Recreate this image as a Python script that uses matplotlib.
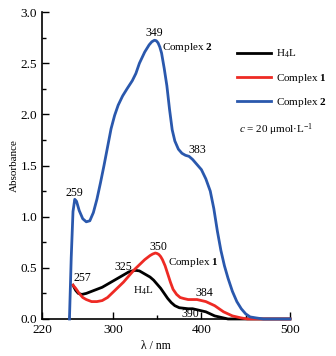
import matplotlib

matplotlib.use('agg')

from matplotlib import pyplot as plt
from matplotlib.ticker import MultipleLocator, FormatStrFormatter

plt.rcParams['font.family'] = 'Liberation Serif'
plt.rcParams['mathtext.fontset'] = 'custom'
plt.rcParams['mathtext.rm'] = 'Liberation Serif'
plt.rcParams['mathtext.it'] = 'Liberation Serif:italic'
plt.rcParams['mathtext.bf'] = 'Liberation Serif:bold'

# wavelength (nm) / absorbance
wl_c2 = [251, 253, 255, 257, 259, 262, 266, 270, 274, 278, 282, 286, 290, 294,
         298, 302, 306, 311, 316, 322, 326, 330, 336, 341, 344, 347, 349, 351,
         353, 355, 358, 361, 364, 367, 370, 374, 378, 382, 386, 390, 395, 400,
         405, 410, 414, 418, 422, 426, 430, 435, 440, 445, 450, 455, 462, 470, 500]
abs_c2 = [0.0, 0.6, 1.05, 1.17, 1.15, 1.06, 0.98, 0.95, 0.96, 1.04, 1.17, 1.33,
          1.50, 1.68, 1.86, 1.99, 2.09, 2.18, 2.25, 2.33, 2.40, 2.50, 2.61, 2.68,
          2.71, 2.725, 2.72, 2.70, 2.66, 2.60, 2.45, 2.28, 2.05, 1.85, 1.74, 1.66,
          1.62, 1.60, 1.59, 1.56, 1.51, 1.46, 1.37, 1.25, 1.08, 0.86, 0.67, 0.52,
          0.40, 0.27, 0.17, 0.10, 0.05, 0.02, 0.01, 0.0, 0.0]

wl_c1 = [255, 258, 262, 266, 270, 276, 282, 288, 294, 300, 306, 312, 318, 324,
         330, 336, 342, 345, 348, 350, 352, 354, 356, 359, 362, 365, 368, 372,
         376, 380, 385, 390, 395, 400, 405, 410, 415, 420, 425, 430, 435, 440,
         445, 452, 500]
abs_c1 = [0.33, 0.30, 0.25, 0.21, 0.19, 0.17, 0.17, 0.18, 0.21, 0.26, 0.31, 0.36,
          0.42, 0.48, 0.53, 0.58, 0.62, 0.635, 0.645, 0.64, 0.63, 0.61, 0.58, 0.52,
          0.44, 0.36, 0.29, 0.24, 0.21, 0.20, 0.19, 0.19, 0.19, 0.18, 0.17, 0.15,
          0.13, 0.10, 0.07, 0.05, 0.03, 0.02, 0.01, 0.0, 0.0]

wl_l = [255, 258, 261, 265, 270, 276, 282, 288, 294, 300, 306, 312, 318, 322,
        326, 330, 334, 338, 342, 346, 350, 354, 358, 362, 366, 370, 375, 380,
        385, 390, 395, 400, 405, 410, 415, 420, 425, 430, 500]
abs_l = [0.33, 0.28, 0.25, 0.24, 0.25, 0.27, 0.29, 0.31, 0.34, 0.37, 0.40, 0.43,
         0.46, 0.47, 0.475, 0.47, 0.45, 0.43, 0.41, 0.38, 0.34, 0.30, 0.25, 0.20,
         0.16, 0.13, 0.11, 0.105, 0.10, 0.10, 0.09, 0.08, 0.07, 0.05, 0.03, 0.02,
         0.01, 0.0, 0.0]

# peak labels: text, x, y
peak_labels = [("349", 347, 2.80), ("383", 395, 1.65), ("259", 256, 1.23),
               ("257", 266, 0.40), ("325", 312, 0.51), ("350", 351, 0.70),
               ("384", 403, 0.25), ("390", 387, 0.05)]

fig = plt.figure(figsize=(3.36, 3.56), dpi=100)
ax = fig.add_axes([0.125, 0.104, 0.738, 0.862])

ax.plot(wl_l, abs_l, color='black', lw=2, zorder=3, clip_on=False, label='H$_4$L')
ax.plot(wl_c1, abs_c1, color='#ee2a24', lw=2, zorder=3, clip_on=False,
        label='Complex $\\mathbf{1}$')
ax.plot(wl_c2, abs_c2, color='#2a58ad', lw=2, zorder=3, clip_on=False,
        label='Complex $\\mathbf{2}$')

for txt, x, y in peak_labels:
    ax.text(x, y, txt, fontsize=8.5, ha='center', va='center')

ax.text(356, 2.65, 'Complex $\\mathbf{2}$', fontsize=8, ha='left', va='center')
ax.text(362, 0.55, 'Complex $\\mathbf{1}$', fontsize=8, ha='left', va='center')
ax.text(334, 0.28, 'H$_4$L', fontsize=8, ha='center', va='center')

ax.legend(loc='upper left', bbox_to_anchor=(237 / 336, 1 - 48 / 356),
          bbox_transform=fig.transFigure, frameon=False, fontsize=8,
          handlelength=3.1, handletextpad=0.4, labelspacing=1.0,
          borderpad=0, borderaxespad=0)
fig.text(239 / 336, 1 - 130 / 356, '$c$ = 20 μmol·L$^{-1}$', fontsize=8,
         ha='left', va='center')

ax.set_xlim(220, 500)
ax.set_ylim(0, 3.0)
ax.set_xticks([220, 300, 400, 500])
ax.xaxis.set_minor_locator(MultipleLocator(50))
ax.yaxis.set_major_locator(MultipleLocator(0.5))
ax.yaxis.set_minor_locator(MultipleLocator(0.25))
ax.yaxis.set_major_formatter(FormatStrFormatter('%.1f'))
ax.tick_params(which='major', direction='in', length=5, width=1, labelsize=9.5)
ax.tick_params(which='minor', direction='in', length=3, width=1)
ax.spines['top'].set_visible(False)
ax.spines['right'].set_visible(False)
ax.spines['left'].set_linewidth(1.2)
ax.spines['bottom'].set_linewidth(1.2)

ax.set_xlabel('λ / nm', fontsize=8.5)
ax.xaxis.set_label_coords(0.46, -0.068)
ax.set_ylabel('Absorbance', fontsize=8, labelpad=1)

plt.savefig('out.png', dpi=100)
